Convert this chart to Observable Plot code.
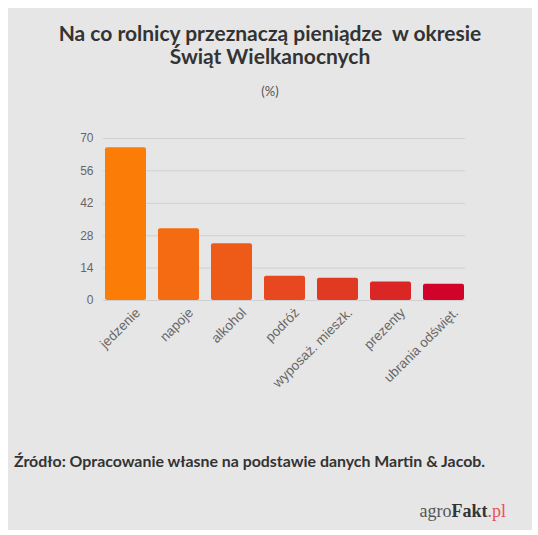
<!DOCTYPE html>
<html><head><meta charset="utf-8">
<script src="https://cdn.jsdelivr.net/npm/d3@7"></script>
<script src="https://cdn.jsdelivr.net/npm/@observablehq/plot@0.6"></script>
<style>
html,body{margin:0;padding:0;background:#fff;width:538px;height:535px;overflow:hidden}
#panel{position:absolute;left:8px;top:8px;width:524px;height:522px;background:#e6e6e6}
.t{position:absolute;left:0;width:100%;text-align:center;font-family:Lato,sans-serif;color:#333;white-space:nowrap}
#t1{top:13px;font-size:21px;font-weight:bold;line-height:23px}
#sub{top:75px;font-size:13px;color:#555}
#src{position:absolute;left:6px;top:443px;font-family:Lato,sans-serif;font-weight:bold;font-size:15.9px;color:#333;white-space:nowrap}
#logo{position:absolute;right:26px;top:493px;font-family:"Liberation Serif","DejaVu Serif",serif;font-size:18px;color:#555;white-space:nowrap}
#logo b{color:#333}
#logo span{color:#e8505b}
#chart{position:absolute;left:0;top:112px}
</style></head>
<body>
<div id="panel">
<div class="t" id="t1">Na co rolnicy przeznaczą pieniądze&nbsp; w okresie<br>Świąt Wielkanocnych</div>
<div class="t" id="sub">(%)</div>
<div id="chart"></div>
<div id="src">Źródło: Opracowanie własne na podstawie danych Martin &amp; Jacob.</div>
<div id="logo">agro<b>Fakt</b><span>.pl</span></div>
</div>
<script>
const categories = ["jedzenie","napoje","alkohol","podróż","wyposaż. mieszk.","prezenty","ubrania odświęt."];
const values = [66, 31, 24.5, 10.5, 9.6, 8, 7];
const colors = ["#fb7c06","#f56b12","#ee5b19","#e7481f","#e13a22","#da2725","#d2032b"];
const yTicks = [0,14,28,42,56,70];

const data = categories.map((c,i)=>({cat:c, value:values[i], color:colors[i]}));

const chart = Plot.plot({
  width: 524,
  height: 300,
  marginTop: 18,
  marginBottom: 120,
  marginLeft: 95,
  marginRight: 67,
  style: {background:"transparent", fontFamily:"'Liberation Sans',Arial,sans-serif", fontSize:"12px", color:"#666"},
  x: {domain: categories, paddingInner: 0.23, paddingOuter: 0, label: null},
  y: {domain: [0,70], label: null},
  marks: [
    Plot.gridY(yTicks, {stroke:"#d0d0d0", strokeOpacity:1, strokeWidth:1}),
    Plot.barY(data, {x:"cat", y:"value", fill:"color", rx:2}),
    Plot.axisY({ticks: yTicks, tickSize:0, tickPadding:10, fill:"#666", fontSize:12}),
    Plot.axisX({tickSize:0, tickRotate:-45, tickPadding:10, fill:"#666", fontSize:13.5, dx:12})
  ]
});
document.getElementById("chart").appendChild(chart);
</script>
</body></html>
